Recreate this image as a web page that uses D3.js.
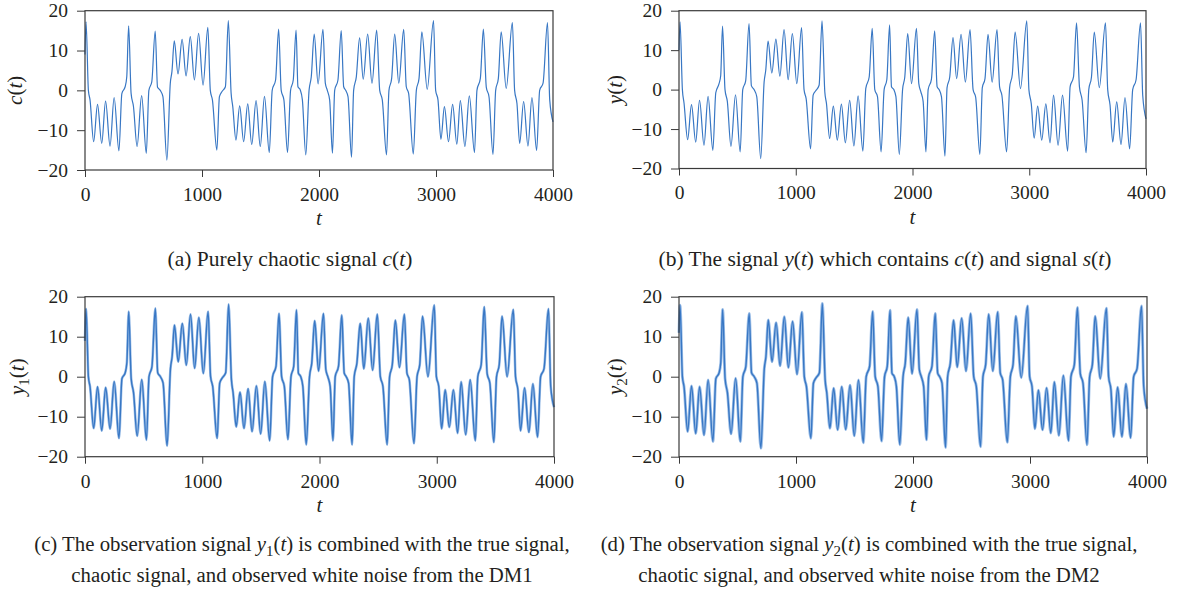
<!DOCTYPE html>
<html>
<head>
<meta charset="utf-8">
<script src="https://cdn.jsdelivr.net/npm/d3@7"></script>
<style>
  body{ margin:0; background:#fff; }
  svg text{ font-family:"Liberation Serif","Times New Roman",serif; fill:#231f20; }
</style>
</head>
<body>
<div id="chart"></div>
<script>

// Sample instants (t): extrema and the shoulders near zero.
const tKnots = [
  0, 9, 29, 43, 74, 107, 143, 176, 214, 249,
  290, 315, 343, 357, 373, 394, 414, 445, 484, 524,
  546, 571, 600, 620, 643, 666, 700, 729, 743, 763,
  795, 830, 864, 900, 935, 971, 1009, 1050, 1071, 1089,
  1127, 1149, 1171, 1200, 1225, 1249, 1263, 1290, 1322, 1356,
  1391, 1425, 1462, 1498, 1534, 1575, 1600, 1629, 1655, 1677,
  1700, 1731, 1757, 1780, 1804, 1820, 1840, 1858, 1887, 1915,
  1934, 1959, 1992, 2034, 2054, 2071, 2091, 2115, 2134, 2162,
  2190, 2211, 2228, 2248, 2278, 2296, 2319, 2347, 2378, 2416,
  2453, 2493, 2519, 2541, 2577, 2598, 2621, 2647, 2682, 2724,
  2746, 2766, 2806, 2832, 2855, 2879, 2925, 2979, 2997, 3017,
  3042, 3072, 3107, 3142, 3178, 3208, 3247, 3285, 3329, 3350,
  3379, 3405, 3430, 3453, 3487, 3510, 3533, 3557, 3600, 3653,
  3672, 3692, 3715, 3749, 3786, 3820, 3860, 3886, 3915, 3953,
  3972, 4000
];

// (a) purely chaotic signal c(t)
const cVals = [
  9, 17.2, 0, -2.4, -12.9, -3.5, -13.3, -2.7, -14, -1.8,
  -15.2, -0.8, 0.9, 3.4, 16.2, -0.75, -4, -14.1, -1.3, -15.8,
  0, 2.2, 14.9, 0.75, 0, -1.6, -17.5, 1.8, 4.7, 12.4,
  4.1, 12.8, 3.6, 13.5, 2.6, 14.3, 1.3, 15.8, 0, -2.4,
  -15, -1.6, -0.3, 0.9, 17.5, -0.75, -4.1, -12.5, -3.9, -12.9,
  -3.4, -13.6, -2.6, -14.1, -1.5, -15.6, 0, 2.6, 15.4, 0,
  -2.4, -15.6, 0, 2.6, 15.1, 0.9, 0.1, -2.4, -16.2, 0,
  3.4, 14.1, 1.6, 15.3, 1.8, 0, -2.4, -15.8, 0, 2.6,
  15, 0.9, 0, -1.6, -16.8, 0, 3.4, 13.2, 2.8, 14.1,
  1.8, 15.1, 0, -2.4, -16.2, 0, 3, 14.1, 1.8, 15.3,
  0.9, -0.75, -16, 0, 3, 14.7, 0.25, 17.5, 0, -2.4,
  -12.3, -4.1, -12.9, -3.5, -13.5, -2.6, -14.1, -1.4, -15.6, 0,
  3, 15.4, 0.75, -1.6, -16.1, 0, 3, 14.7, 0.5, 17,
  0, -3.3, -13.3, -2.8, -14, -1.8, -15.1, 0, 1.8, 17,
  -2.4, -7.9
];

// (b) y(t) = c(t) + s(t)
const yVals = [
  10, 17.2, 0, -3.4, -12.7, -3.8, -13.3, -2.7, -14.1, -1.7,
  -15.4, -0.8, 1.5, 3.5, 16.1, 0, -3, -14.4, -1.3, -15.8,
  0, 2.2, 16.7, 1, 0, -1.8, -17.5, 1.9, 4.9, 12.3,
  4.2, 12.8, 3.4, 15.2, 2.5, 14.2, 1.5, 15.7, 0, -2.3,
  -15, -1.4, -0.3, 1.1, 17.4, -0.6, -3.5, -12.4, -4.2, -12.8,
  -3.7, -13.5, -2.7, -14.3, -1.6, -15.6, 0.3, 3.2, 15.5, 0,
  -1.8, -15.8, 0, 2.5, 16.4, 0.7, 0, -1.8, -16.4, 0,
  3.2, 14.2, 1.5, 15.5, 1.5, -0.5, -3, -15.8, 0, 2.6,
  14.9, 0.7, 0, -1.8, -16.9, 0.5, 3.2, 13.2, 2.8, 14,
  1.9, 15.2, 0, -1.9, -16.4, 0.5, 2.8, 14, 1.9, 15.2,
  0.7, -1.5, -15.8, 0.5, 3.9, 14.6, 0.25, 17.4, 0, -3.5,
  -12.3, -4.2, -12.8, -3.6, -13.5, -1.4, -14.1, -1.4, -15.6, 0.7,
  3.2, 16.9, 0.7, -2.7, -16, 0, 3.2, 14.6, 0.5, 16.9,
  0, -3.9, -13.3, -3.1, -13.9, -2, -15, 0, 2.5, 16.9,
  -1.5, -7.4
];

// (c) observation y1(t), DM1
const y1Vals = [
  9, 17, 0, -2.5, -12.9, -2.5, -13.5, -2.7, -13, -1.2,
  -15.4, -0.5, 1, 3.5, 16.3, -0.5, -4, -14.8, -0.7, -15.8,
  0, 2.5, 17.1, 1, 0, -1.6, -17.3, 2, 5, 12.9,
  3.75, 13.3, 2.9, 15.6, 2.1, 14.8, 0.8, 16.3, 0, -2.4,
  -15.4, -1.6, -0.3, 1, 18.1, -0.75, -4, -12.5, -3.9, -12.9,
  -3, -13.7, -2.3, -14.3, -1.2, -16, 0, 2.6, 15.8, 0,
  -2.4, -15.7, 0, 2.6, 16.7, 0.9, 0, -2.4, -17, 0,
  3.4, 14, 1.4, 15.8, 1.8, 0, -2.4, -16, 0, 2.6,
  15.4, 0.9, 0, -1.6, -17, 0, 3.4, 13.3, 2, 14.6,
  1.6, 15.6, 0, -2.4, -17, 0, 3, 14.1, 2.3, 15.6,
  0.9, -0.75, -16.7, 0, 3, 15.1, 0, 17.9, 0, -2.4,
  -13, -3.3, -12.6, -3.3, -14.1, -1.3, -14.5, -0.75, -16, 0,
  3, 17.5, 0.75, -1.6, -16.4, 0, 3, 15.1, 0, 16.8,
  0, -3.3, -13.5, -2.8, -13.9, -1.8, -15.1, 0, 2, 17,
  -2.4, -7.6
];

// (d) observation y2(t), DM2
const y2Vals = [
  11, 17.9, 0, -2.5, -13.7, -2.3, -14.2, -2.5, -14.6, -0.8,
  -16.2, -0.5, 1, 3.5, 16.8, -0.5, -4, -14.3, -0.4, -16.2,
  0, 2.5, 15.8, 1, 0, -1.6, -17.9, 2, 5, 14.2,
  3.75, 13.5, 2.7, 15, 2.3, 13.8, 0.6, 16.1, 0, -2.4,
  -15.4, -1.6, -0.3, 1, 18.3, -0.75, -4, -12.9, -2.9, -13.3,
  -2.5, -13.2, -2.1, -14.8, -0.8, -16.5, 0, 2.6, 16.3, 0,
  -2.4, -16.1, 0, 2.6, 16.6, 0.9, 0, -2.4, -17, 0,
  3.4, 14.8, 0.75, 16.8, 1.8, 0, -2.4, -15.8, 0, 2.6,
  15.8, 0.9, 0, -1.6, -17.7, 0, 3.4, 14.1, 2.4, 14.6,
  1.4, 15.8, 0, -2.4, -17.5, 0, 3, 15.6, 1.4, 16.2,
  0.9, -0.75, -16.4, 0, 3, 15.1, -0.25, 17.7, 0, -2.4,
  -13, -3.4, -13.3, -2.8, -14.1, -1.3, -14.7, 0.3, -16, 0,
  3, 17.3, 0.75, -1.6, -17, 0, 3, 15.1, -0.5, 17.1,
  0, -3.3, -15, -2.6, -15, -1.8, -15.3, 0, 2, 17.7,
  -2.4, -8
];

const xTicks = [0, 1000, 2000, 3000, 4000];
const yTicks = [-20, -10, 0, 10, 20];

// Label pieces: [text, style] where style is '' (roman), 'i' (italic) or 'sub'.
const yLabels = [
  [['c','i'],['(',''],['t','i'],[')','']],
  [['y','i'],['(',''],['t','i'],[')','']],
  [['y','i'],['1','sub'],['(',''],['t','i'],[')','']],
  [['y','i'],['2','sub'],['(',''],['t','i'],[')','']]
];
const captions = [
  [ [['(a) Purely chaotic signal ',''],['c','i'],['(',''],['t','i'],[')','']] ],
  [ [['(b) The signal ',''],['y','i'],['(',''],['t','i'],[') which contains ',''],['c','i'],['(',''],['t','i'],[') and signal ',''],['s','i'],['(',''],['t','i'],[')','']] ],
  [ [['(c) The observation signal ',''],['y','i'],['1','sub'],['(',''],['t','i'],[') is combined with the true signal,','']],
    [['chaotic signal, and observed white noise from the DM1','']] ],
  [ [['(d) The observation signal ',''],['y','i'],['2','sub'],['(',''],['t','i'],[') is combined with the true signal,','']],
    [['chaotic signal, and observed white noise from the DM2','']] ]
];

const W = 1177, H = 594;
const LINE_COLOR = '#3877c4';
const TICK_FONT = 19.5;

// Panel geometry (pixels).
const layout = [
  { left: 85,  right: 553,  top: 10.7,  bottom: 170,   labelX: 22,  capX: 290, capY: [266],      capFont: 21.5, halo: 0 },
  { left: 679, right: 1146, top: 10.7,  bottom: 168.5, labelX: 622, capX: 885, capY: [266],      capFont: 21.5, halo: 0 },
  { left: 85,  right: 554,  top: 296.7, bottom: 456.7, labelX: 24,  capX: 302, capY: [551, 582], capFont: 20.8, halo: 2.6 },
  { left: 679, right: 1147, top: 296.7, bottom: 456.7, labelX: 622, capX: 869, capY: [551, 582], capFont: 20.8, halo: 2.9 }
];
const series = [ cVals, yVals, y1Vals, y2Vals ];

const svg = d3.select( '#chart' )
  .append( 'svg' )
    .attr( 'width', W )
    .attr( 'height', H );

// Append text made of roman / italic / subscript pieces.
function rich_text( parent, pieces, size ){
  const txt = parent.append( 'text' ).style( 'font-size', size + 'px' );
  let shifted = false;
  pieces.forEach( function( p ){
    const ts = txt.append( 'tspan' ).text( p[0] );
    if( p[1] == 'i' ) ts.style( 'font-style', 'italic' );
    if( p[1] == 'sub' ){
      ts.style( 'font-size', ( size * 0.72 ) + 'px' ).attr( 'dy', size * 0.22 );
      shifted = true;
    } else if( shifted ){
      ts.attr( 'dy', -size * 0.22 );
      shifted = false;
    }
  } );
  return txt;
}

layout.forEach( function( L, i ){
  const g = svg.append( 'g' );

  const x = d3.scaleLinear().domain( [0, 4000] ).range( [L.left, L.right] );
  const y = d3.scaleLinear().domain( [-20, 20] ).range( [L.bottom, L.top] );

  // Signal
  const pts = tKnots.map( function( t, k ){ return [ t, series[i][k] ]; } );
  const line = d3.line()
    .x( function( d ){ return x( d[0] ); } )
    .y( function( d ){ return y( d[1] ); } )
    .curve( d3.curveMonotoneX );

  if( L.halo > 0 ){
    g.append( 'path' )
      .datum( pts )
      .attr( 'd', line )
      .attr( 'fill', 'none' )
      .attr( 'stroke', '#9fc0e8' )
      .attr( 'stroke-width', L.halo )
      .attr( 'stroke-linejoin', 'round' );
  }
  g.append( 'path' )
    .datum( pts )
    .attr( 'd', line )
    .attr( 'fill', 'none' )
    .attr( 'stroke', LINE_COLOR )
    .attr( 'stroke-width', L.halo > 0 ? 1.4 : 1.2 )
    .attr( 'stroke-linejoin', 'round' );

  // Axes
  const xAxis = g.append( 'g' )
    .attr( 'transform', 'translate(0,' + L.bottom + ')' )
    .call( d3.axisBottom( x ).tickValues( xTicks ).tickFormat( d3.format( 'd' ) )
      .tickSize( 7 ).tickSizeOuter( 0 ).tickPadding( 10 ) );
  const yAxis = g.append( 'g' )
    .attr( 'transform', 'translate(' + L.left + ',0)' )
    .call( d3.axisLeft( y ).tickValues( yTicks ).tickFormat( d3.format( 'd' ) )
      .tickSize( 8 ).tickSizeOuter( 0 ).tickPadding( 9 ) );

  [ xAxis, yAxis ].forEach( function( ax ){
    ax.attr( 'font-family', null ).attr( 'font-size', null );
    ax.select( '.domain' ).remove();
    ax.selectAll( '.tick line' ).attr( 'stroke', '#3a3a3a' );
    ax.selectAll( '.tick text' )
      .style( 'font-size', TICK_FONT + 'px' )
      .attr( 'fill', '#231f20' );
  } );

  // Frame
  g.append( 'rect' )
    .attr( 'x', L.left )
    .attr( 'y', L.top )
    .attr( 'width', L.right - L.left )
    .attr( 'height', L.bottom - L.top )
    .attr( 'fill', 'none' )
    .attr( 'stroke', '#3a3a3a' )
    .attr( 'stroke-width', 1.2 );

  // x axis title
  rich_text( g, [['t','i']], 21 )
    .attr( 'x', ( L.left + L.right ) / 2 )
    .attr( 'y', L.bottom + 55 )
    .attr( 'text-anchor', 'middle' );

  // y axis title
  rich_text( g, yLabels[i], 21 )
    .attr( 'text-anchor', 'middle' )
    .attr( 'transform', 'translate(' + L.labelX + ',' + ( ( L.top + L.bottom ) / 2 ) + ') rotate(-90)' );

  // Caption
  captions[i].forEach( function( pieces, j ){
    rich_text( svg, pieces, L.capFont )
      .attr( 'x', L.capX )
      .attr( 'y', L.capY[j] )
      .attr( 'text-anchor', 'middle' );
  } );
} );

</script>
</body>
</html>
